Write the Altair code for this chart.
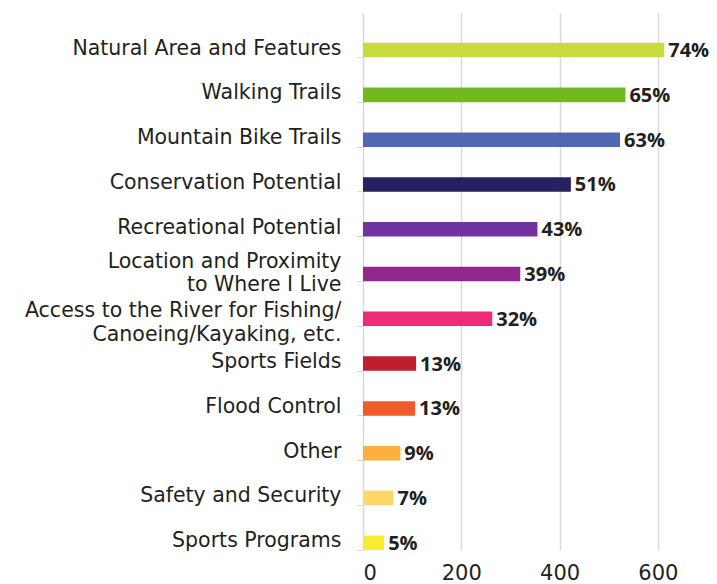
import altair as alt
import pandas as pd

categories = [
    "Natural Area and Features",
    "Walking Trails",
    "Mountain Bike Trails",
    "Conservation Potential",
    "Recreational Potential",
    "Location and Proximity|to Where I Live",
    "Access to the River for Fishing/|Canoeing/Kayaking, etc.",
    "Sports Fields",
    "Flood Control",
    "Other",
    "Safety and Security",
    "Sports Programs",
]
counts = [613, 534, 523, 423, 355, 320, 263, 108, 106, 76, 62, 43]
percent_labels = ["74%", "65%", "63%", "51%", "43%", "39%", "32%", "13%", "13%", "9%", "7%", "5%"]
colors = ["#c8da3c", "#70b922", "#5068b0", "#262262", "#7232a0", "#92278f",
          "#ee2a7b", "#be1e2d", "#f15a29", "#fbb040", "#fed768", "#f9ed32"]

df = pd.DataFrame({"category": categories, "count": counts,
                   "pct": percent_labels, "color": colors})

LABEL_FONT = "DejaVu Sans"
PCT_FONT = "Open Sans"
DARK = "#231f20"

label_offset = {
    "condition": [
        {"test": "indexof(datum.value, 'Location') >= 0", "value": -20},
        {"test": "indexof(datum.value, 'Access') >= 0", "value": -15},
    ],
    "value": -9,
}

y_enc = alt.Y(
    "category:N",
    sort=categories,
    scale=alt.Scale(paddingInner=0.676, paddingOuter=0.333, align=1),
    axis=alt.Axis(
        title=None,
        domain=False,
        grid=False,
        ticks=True,
        tickColor="#d9d9d9",
        tickSize=6,
        tickOffset=7,
        labelOffset=label_offset,
        labelExpr="split(datum.label, '|')",
        labelFont=LABEL_FONT,
        labelFontSize=20.5,
        labelColor=DARK,
        labelPadding=16,
        labelLineHeight=23.5,
        labelBaseline="middle",
        labelLimit=400,
    ),
)

x_enc = alt.X(
    "count:Q",
    scale=alt.Scale(domain=[0, 700], nice=False),
    axis=alt.Axis(
        title=None,
        values=[0, 200, 400, 600],
        grid=True,
        gridColor="#d9d9d9",
        gridWidth=1.5,
        domain=False,
        ticks=False,
        labelFont=LABEL_FONT,
        labelFontSize=21,
        labelColor=DARK,
        labelPadding=12,
    ),
)

bars = alt.Chart(df).mark_bar().encode(
    x=x_enc,
    y=y_enc,
    color=alt.Color("color:N", scale=None),
)

text = alt.Chart(df).mark_text(
    align="left", baseline="middle", dx=4, dy=1,
    font=PCT_FONT, fontSize=20, fontWeight="bold", color=DARK,
).encode(
    x=alt.X("count:Q"),
    y=alt.Y("category:N", sort=categories),
    text="pct:N",
)

chart = (bars + text).properties(
    width=344,
    height=537,
    autosize=alt.AutoSizeParams(type="none"),
    padding={"left": 355, "top": 5, "right": 2, "bottom": 34},
).configure_view(stroke=None)

chart.save("out.html", embed_options={"renderer": "svg", "actions": False})
